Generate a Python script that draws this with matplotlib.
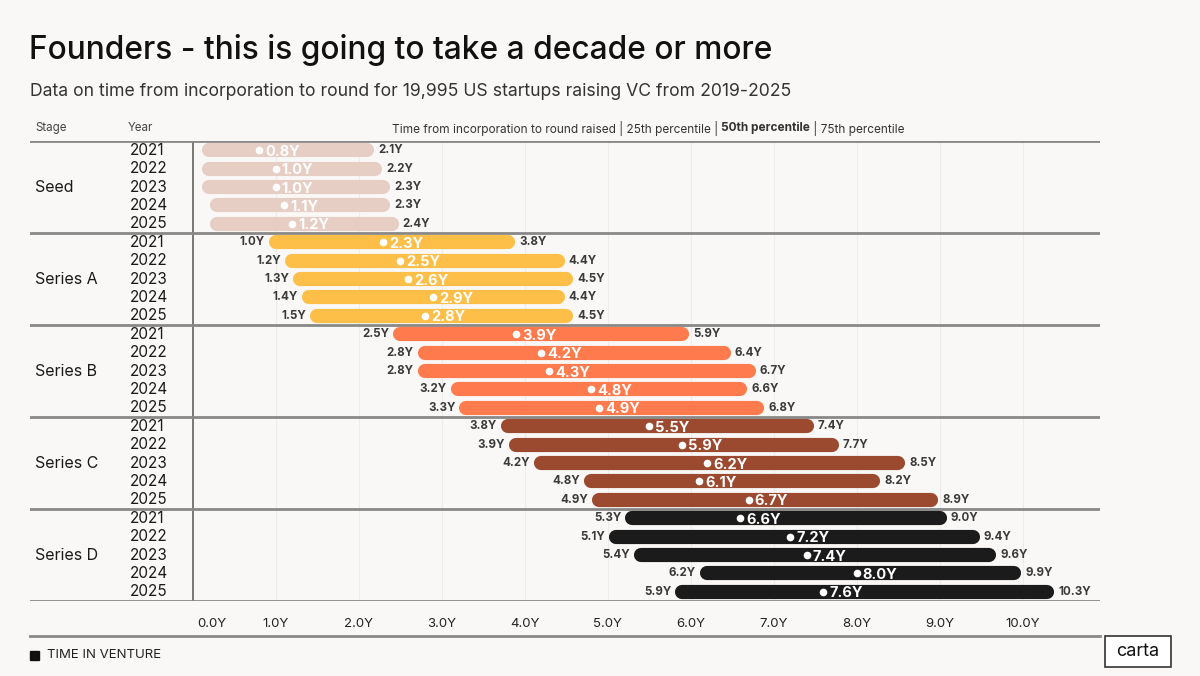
import matplotlib.pyplot as plt
import numpy as np
from matplotlib.transforms import blended_transform_factory, ScaledTranslation
from matplotlib.patches import Rectangle

# data: time from incorporation to round (years)
stages = ["Seed", "Series A", "Series B", "Series C", "Series D"]
years = ["2021", "2022", "2023", "2024", "2025"]
p25 = [[0.2, 0.2, 0.2, 0.3, 0.3],
       [1.0, 1.2, 1.3, 1.4, 1.5],
       [2.5, 2.8, 2.8, 3.2, 3.3],
       [3.8, 3.9, 4.2, 4.8, 4.9],
       [5.3, 5.1, 5.4, 6.2, 5.9]]
p50 = [[0.8, 1.0, 1.0, 1.1, 1.2],
       [2.3, 2.5, 2.6, 2.9, 2.8],
       [3.9, 4.2, 4.3, 4.8, 4.9],
       [5.5, 5.9, 6.2, 6.1, 6.7],
       [6.6, 7.2, 7.4, 8.0, 7.6]]
p75 = [[2.1, 2.2, 2.3, 2.3, 2.4],
       [3.8, 4.4, 4.5, 4.4, 4.5],
       [5.9, 6.4, 6.7, 6.6, 6.8],
       [7.4, 7.7, 8.5, 8.2, 8.9],
       [9.0, 9.4, 9.6, 9.9, 10.3]]
show_p25 = [False, True, True, True, True]
colors = ["#E7CEC4", "#FDBF47", "#FF7B4D", "#9B4A2F", "#1B1B1B"]
xticks = np.arange(0, 11)
xticklabels = ["%.1fY" % v for v in xticks]

W, H = 1200, 676
BG = "#F9F8F6"
FONT = ["Inter", "DejaVu Sans"]
plt.rcParams['font.family'] = FONT

fig = plt.figure(figsize=(W / 100, H / 100), dpi=100, facecolor=BG)

def fx(px):
    return px / W

def fy(py):
    return 1 - py / H

# axes spans 30..1100 px horizontally, 140..600 px vertically
x0_px, px_per_year = 192.5, 83.0
ax = fig.add_axes([fx(30), fy(601), fx(1100) - fx(30), fy(141) - fy(601)])
ax.set_facecolor(BG)
ax.set_xlim((30 - x0_px) / px_per_year, (1100 - x0_px) / px_per_year)
nrows = len(stages) * len(years)
ax.set_ylim(nrows - 0.5, -0.5)
for s in ax.spines.values():
    s.set_visible(False)
ax.tick_params(left=False, bottom=False, labelleft=False)

# faint year grid
for v in xticks[1:]:
    ax.axvline(v, color="#EEECE8", lw=0.8, zorder=0)
ax.axvline(0, color="#555555", lw=1.1, zorder=1)

# group separators
ax.axhline(-0.5, color="#888888", lw=2, zorder=1)
for g in range(1, len(stages) + 1):
    ax.axhline(g * len(years) - 0.5, color="#888888", lw=2, zorder=1)

ylab_tr = blended_transform_factory(fig.transFigure, ax.transData)

for g, stage in enumerate(stages):
    c = colors[g]
    ax.text(fx(35), g * len(years) + 2, stage, transform=ylab_tr, ha="left",
            va="center", fontsize=11.5, color="#1a1a1a")
    for j, yr in enumerate(years):
        row = g * len(years) + j
        ax.text(fx(130), row, yr, transform=ylab_tr, ha="left", va="center",
                fontsize=11, color="#1a1a1a")
        lo, md, hi = p25[g][j], p50[g][j], p75[g][j]
        ax.plot([lo, hi], [row, row], color=c, lw=10.2, solid_capstyle="round",
                zorder=3)
        ax.plot(md, row, "o", color="white", ms=5.5, mec="none", zorder=4)
        ax.annotate("%.1fY" % md, (md, row), xytext=(4.5, -1.2),
                    textcoords="offset points", ha="left", va="center",
                    fontsize=10.5, fontweight="bold", color="white", zorder=5)
        ax.annotate("%.1fY" % hi, (hi, row), xytext=(8, 0),
                    textcoords="offset points", ha="left", va="center",
                    fontsize=8.3, fontweight="bold", color="#3a3a3a")
        if show_p25[g]:
            ax.annotate("%.1fY" % lo, (lo, row), xytext=(-8, 0),
                        textcoords="offset points", ha="right", va="center",
                        fontsize=8.3, fontweight="bold", color="#3a3a3a")

ax.set_xticks(xticks)
ax.set_xticklabels(xticklabels, fontsize=9.5, color="#222222")
ax.tick_params(axis="x", pad=9)
first = ax.get_xticklabels()[0]
first.set_transform(first.get_transform() + ScaledTranslation(14 / 72, 0, fig.dpi_scale_trans))

# titles
fig.text(fx(29), fy(50), "Founders - this is going to take a decade or more",
         fontsize=22.8, fontweight="medium", color="#111111", va="center", ha="left")
fig.text(fx(30), fy(92), "Data on time from incorporation to round for 19,995 US startups raising VC from 2019-2025",
         fontsize=12.7, color="#333333", va="center", ha="left")

# header row
fig.text(fx(35), fy(128), "Stage", fontsize=8.3, color="#444444", va="center")
fig.text(fx(128), fy(128), "Year", fontsize=8.3, color="#444444", va="center")
pieces = [("Time from incorporation to round raised | 25th percentile | ", "normal"),
          ("50th percentile", "bold"),
          (" | 75th percentile", "normal")]
renderer = fig.canvas.get_renderer()
texts = []
total = 0
for s, w in pieces:
    t = fig.text(0, fy(128), s, fontsize=8.5, fontweight=w, color="#333333", va="center")
    texts.append(t)
    total += t.get_window_extent(renderer).width
xpos = 648 - total / 2
for t in texts:
    t.set_x(fx(xpos))
    xpos += t.get_window_extent(renderer).width

# footer
fig.add_artist(plt.Line2D([fx(30), fx(1100)], [fy(636), fy(636)], color="#888888", lw=2))
fig.add_artist(Rectangle((fx(30), fy(660)), fx(9), 9 / H, color="#111111",
                         transform=fig.transFigure))
fig.text(fx(47), fy(655), "TIME IN VENTURE", fontsize=9.5, color="#222222", va="center")
fig.add_artist(Rectangle((fx(1105), fy(667)), fx(66), 31 / H, facecolor="white",
                         edgecolor="#333333", lw=1.2, transform=fig.transFigure))
fig.text(fx(1138), fy(652), "carta", fontsize=13, color="#111111", ha="center", va="center")

fig.savefig("out.png", dpi=100, facecolor=BG)
